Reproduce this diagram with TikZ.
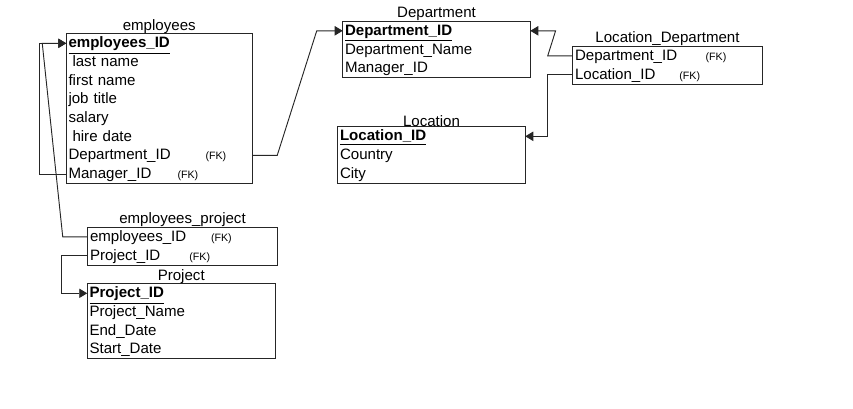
\documentclass[tikz,border=0pt]{standalone}
\usepackage{fontspec}
\setmainfont{Liberation Sans}
\usetikzlibrary{arrows.meta,positioning}
\newcommand{\fieldfont}{\fontsize{11.3}{13}\selectfont}
\newcommand{\fkfont}{\fontsize{8}{9}\selectfont}
\newcommand{\fkrow}[2]{\makebox[#1][l]{#2}{\fkfont(FK)}}
\newcommand{\pkrow}[1]{\underline{\textbf{#1}}}
\tikzstyle{field}=[rectangle,text width=#1,align=left,inner xsep=1.5pt,inner ysep=0pt,minimum height=14pt,text height=9pt,text depth=2pt,font=\fieldfont]
\tikzstyle{title}=[anchor=south,inner sep=0pt,font=\fieldfont]
\tikzstyle{table}=[line width=0.8pt,black!85]
\tikzstyle{line}=[line width=0.7pt,black!85]
\tikzstyle{arrow}=[line width=0.7pt,black!85,-{Triangle[length=6pt,width=7pt]}]

\begin{document}
\begin{tikzpicture}[x=0.75pt,y=-0.75pt,node distance=14pt]
            \useasboundingbox (0,0) rectangle (853,408);
            % employees
            \node (e1)[field=136.1pt] at (159.25,43.3){\pkrow{employees\_ID}};
            \node (e2)[field=136.1pt,below of=e1]{\hspace*{3pt}last name};
            \node (e3)[field=136.1pt,below of=e2]{first name};
            \node (e4)[field=136.1pt,below of=e3]{job title};
            \node (e5)[field=136.1pt,below of=e4]{salary};
            \node (e6)[field=136.1pt,below of=e5]{\hspace*{3pt}hire date};
            \node (e7)[field=136.1pt,below of=e6]{\fkrow{102.75pt}{Department\_ID}};
            \node (e8)[field=136.1pt,below of=e7]{\fkrow{81.75pt}{Manager\_ID}};
            \draw [table] (e1.north west) rectangle (e8.south east);
            \node (emptitle)[title] at (e1.north){employees};
            % Department
            \node (d1)[field=137.25pt] at (436.5,30.8){\pkrow{Department\_ID}};
            \node (d2)[field=137.25pt,below of=d1]{Department\_Name};
            \node (d3)[field=137.25pt,below of=d2]{Manager\_ID};
            \draw [table] (d1.north west) rectangle (d3.south east);
            \node (deptitle)[title] at (d1.north){Department};
            % Location_Department
            \node (ld1)[field=138.75pt] at (667.5,55.8){\fkrow{98pt}{Department\_ID}};
            \node (ld2)[field=138.75pt,below of=ld1]{\fkrow{78.3pt}{Location\_ID}};
            \draw [table] (ld1.north west) rectangle (ld2.south east);
            \node (ldtitle)[title] at (ld1.north){Location\_Department};
            % Location
            \node (l1)[field=137.25pt] at (431.5,136.3){\pkrow{Location\_ID}};
            \node (l2)[field=137.25pt,below of=l1]{Country};
            \node (l3)[field=137.25pt,below of=l2]{City};
            \draw [table] (l1.north west) rectangle (l3.south east);
            \node (loctitle)[title] at (l1.north){Location};
            % employees_project
            \node (ep1)[field=138.75pt] at (182.5,236.8){\fkrow{90.75pt}{employees\_ID}};
            \node (ep2)[field=138.75pt,below of=ep1]{\fkrow{74.5pt}{Project\_ID}};
            \draw [table] (ep1.north west) rectangle (ep2.south east);
            \node (eptitle)[title] at (ep1.north){employees\_project};
            % Project
            \node (p1)[field=137.6pt] at (181.25,293.3){\pkrow{Project\_ID}};
            \node (p2)[field=137.6pt,below of=p1]{Project\_Name};
            \node (p3)[field=137.6pt,below of=p2]{End\_Date};
            \node (p4)[field=137.6pt,below of=p3]{Start\_Date};
            \draw [table] (p1.north west) rectangle (p4.south east);
            \node (projtitle)[title] at (p1.north){Project};
            % relations
            \draw [arrow] (e8.west) -- ++(-26.5,0) |- (e1.west);
            \draw [arrow] (ep1.west) -- ++(-25,0) -- ([xshift=-18pt]e1.west) -- (e1.west);
            \draw [arrow] (e7.east) -- ++(25,0) -- ([xshift=-19.5pt]d1.west) -- (d1.west);
            \draw [arrow] (ld1.west) -- ++(-25,0) -- ([xshift=19pt]d1.east) -- (d1.east);
            \draw [arrow] (ld2.west) -- ++(-25,0) |- (l1.east);
            \draw [arrow] (ep2.west) -- ++(-26,0) |- (p1.west);
        \end{tikzpicture}
\end{document}
